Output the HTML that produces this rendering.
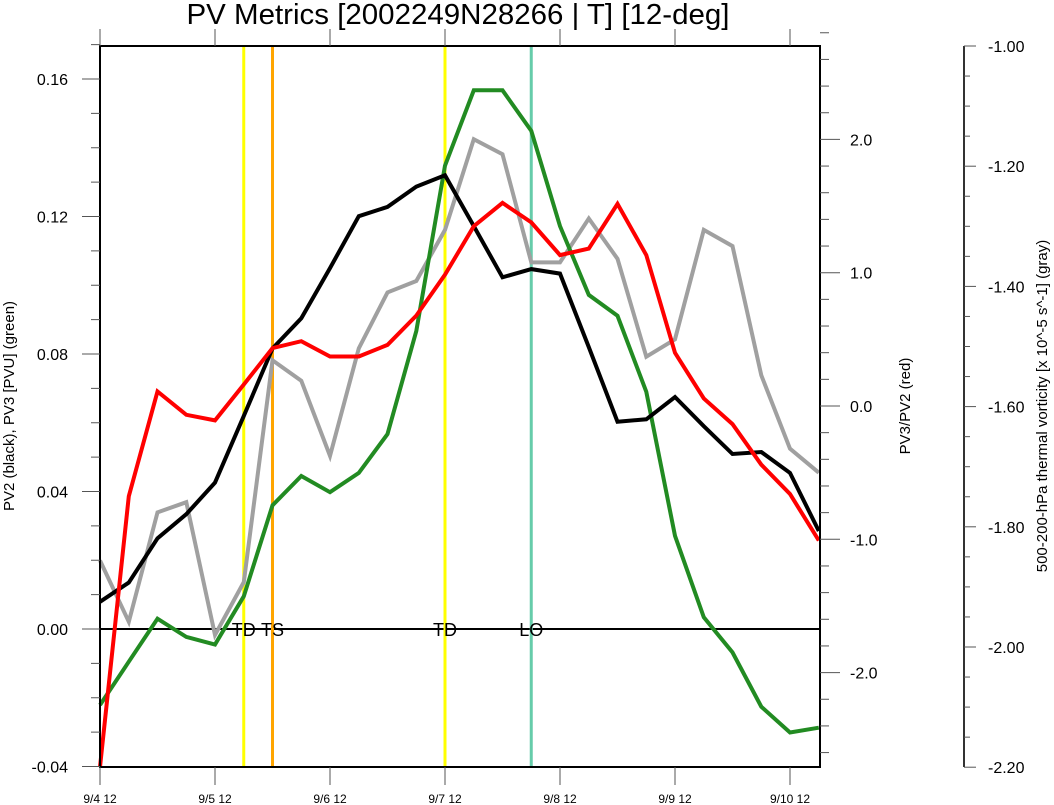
<!DOCTYPE html>
<html><head><meta charset="utf-8"><style>
html,body{margin:0;padding:0;background:#fff;}
svg{display:block;font-family:"Liberation Sans",sans-serif;}
</style></head><body>
<svg id="chart" width="1054" height="805" viewBox="0 0 1054 805" xmlns="http://www.w3.org/2000/svg">
<text x="458" y="24" text-anchor="middle" font-size="29" textLength="543" lengthAdjust="spacingAndGlyphs">PV Metrics [2002249N28266 | T] [12-deg]</text>
<g id="grid"></g>
<g id="marks"></g>
<g id="axes"></g>
<text transform="translate(14,406) rotate(-90)" text-anchor="middle" font-size="15">PV2 (black), PV3 [PVU] (green)</text>
<text transform="translate(910,406) rotate(-90)" text-anchor="middle" font-size="15">PV3/PV2 (red)</text>
<text transform="translate(1047,406) rotate(-90)" text-anchor="middle" font-size="15">500-200-hPa thermal vorticity [x 10^-5 s^-1] (gray)</text>
</svg>
<script>
const xLabels = ["9/4 12","9/5 12","9/6 12","9/7 12","9/8 12","9/9 12","9/10 12"];
const pv2Black = [0.0079,0.0135,0.0264,0.0334,0.0426,0.0620,0.0816,0.0904,0.1050,0.1201,0.1228,0.1287,0.1320,0.1172,0.1023,0.1047,0.1034,0.0820,0.0603,0.0610,0.0675,0.0590,0.0509,0.0515,0.0454,0.0285];
const pv3Green = [-0.0221,-0.0095,0.0030,-0.0023,-0.0045,0.0095,0.0360,0.0445,0.0398,0.0454,0.0567,0.0867,0.1348,0.1567,0.1567,0.1449,0.1172,0.0972,0.0911,0.0690,0.0271,0.0034,-0.0068,-0.0226,-0.0301,-0.0287];
const ratioRed = [-2.708,-0.677,0.109,-0.066,-0.108,0.161,0.434,0.486,0.371,0.371,0.458,0.678,0.985,1.349,1.524,1.377,1.132,1.181,1.516,1.132,0.399,0.056,-0.136,-0.440,-0.660,-1.009];
const vortGray = [-1.856,-1.958,-1.776,-1.759,-1.980,-1.892,-1.523,-1.557,-1.682,-1.503,-1.410,-1.391,-1.306,-1.155,-1.180,-1.360,-1.360,-1.287,-1.354,-1.517,-1.488,-1.306,-1.333,-1.548,-1.670,-1.710];
const eventIdx = [5,6,12,15];
const eventLabels = ["TD","TS","TD","LO"];
const eventColors = ["#ffff00","#ffa500","#ffff00","#66ccaa"];
const leftTicks = [-0.04,0.00,0.04,0.08,0.12,0.16];
const redTicks = [-2.0,-1.0,0.0,1.0,2.0];
const grayTicks = [-2.20,-2.00,-1.80,-1.60,-1.40,-1.20,-1.00];

const NS="http://www.w3.org/2000/svg";
const L=100,R=820,T=46,B=767;
const x=i=>100+i*28.75;
const yL=v=>629-v*3437.5;
const yR=v=>406-v*133.3;
const yG=v=>46+(-1-v)*601;
function mk(tag,attrs,parent){const e=document.createElementNS(NS,tag);for(const k in attrs)e.setAttribute(k,attrs[k]);parent.appendChild(e);return e;}
const axes=document.getElementById('axes'),marks=document.getElementById('marks'),grid=document.getElementById('grid');

let zl=mk('line',{x1:L,x2:R,y1:yL(0),y2:yL(0),stroke:'#000','stroke-width':2},grid);



eventIdx.forEach((ix,k)=>{
  const ln=mk('line',{x1:x(ix),x2:x(ix),y1:T,y2:B,stroke:eventColors[k],'stroke-width':3},grid);
  
  
});
eventIdx.forEach((ix,k)=>{
  const t=mk('text',{x:x(ix),y:yL(0)+7,'text-anchor':'middle','font-size':18},grid);
  t.textContent=eventLabels[k];
  
  
});

function series(vals,yf,color,name){
  const d=vals.map((v,i)=>(i?'L':'M')+x(i).toFixed(1)+','+yf(v).toFixed(1)).join(' ');
  const p=mk('path',{d:d,fill:'none',stroke:color,'stroke-width':4,'stroke-linejoin':'miter'},marks);
  
  
}
series(vortGray,yG,'#a0a0a0','gray-vorticity-line');
series(pv3Green,yL,'#228b22','green-pv3-line');
series(pv2Black,yL,'#000000','black-pv2-line');
series(ratioRed,yR,'#ff0000','red-ratio-line');

let fr=mk('rect',{x:L,y:T,width:R-L,height:B-T,fill:'none',stroke:'#000','stroke-width':2},axes);



for(let v=-0.04;v<=0.1701;v+=0.01){
  const major=Math.abs(Math.round(v*100)%4)===0;
  mk('line',{x1:major?82:91,x2:L,y1:yL(v),y2:yL(v),stroke:'#555','stroke-width':1},axes);
}
leftTicks.forEach(v=>{
  const t=mk('text',{x:68,y:yL(v)+6,'text-anchor':'end','font-size':16},axes);
  t.textContent=v.toFixed(2);
  
  
});
xLabels.forEach((s,k)=>{
  const xx=x(k*4);
  mk('line',{x1:xx,x2:xx,y1:B,y2:785,stroke:'#555','stroke-width':1},axes);
  mk('line',{x1:xx,x2:xx,y1:T,y2:29,stroke:'#555','stroke-width':1},axes);
  const t=mk('text',{x:xx,y:803,'text-anchor':'middle','font-size':12},axes);
  t.textContent=s;
  
  
});
for(let v=-2.6;v<=2.81;v+=0.2){
  const major=Math.abs(v-Math.round(v))<0.01;
  mk('line',{x1:R,x2:major?840:829,y1:yR(v),y2:yR(v),stroke:'#555','stroke-width':1},axes);
}
redTicks.forEach(v=>{
  const t=mk('text',{x:850,y:yR(v)+6,'font-size':16},axes);
  t.textContent=v.toFixed(1);
  
  
});
let ga=mk('line',{x1:964,x2:964,y1:46,y2:767,stroke:'#333','stroke-width':2},axes);


for(let k=0;k<=24;k++){
  const v=-1-k*0.05;
  mk('line',{x1:964,x2:k%4===0?976:970,y1:yG(v),y2:yG(v),stroke:'#555','stroke-width':1},axes);
}
grayTicks.forEach(v=>{
  const t=mk('text',{x:988,y:yG(v)+6,'font-size':16},axes);
  t.textContent=v.toFixed(2);
  
  
});
</script>
</body></html>
